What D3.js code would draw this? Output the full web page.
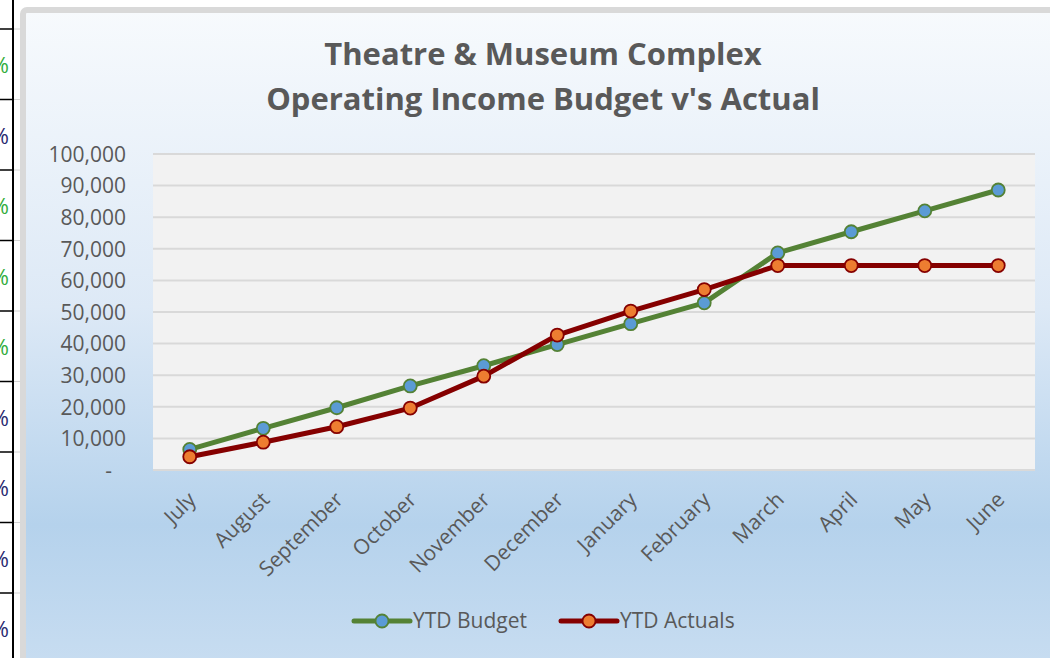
<!DOCTYPE html>
<html>
<head>
<meta charset="utf-8">
<script src="https://cdn.jsdelivr.net/npm/d3@7"></script>
<style>
  html, body { margin: 0; padding: 0; background: #fff; }
  svg { display: block; font-family: "Open Sans", sans-serif; }
</style>
</head>
<body>
<svg width="1050" height="658"></svg>
<script>
// --- Data ---
const months = ["July", "August", "September", "October", "November", "December",
  "January", "February", "March", "April", "May", "June"];
const ytdBudget = [6500, 13200, 19700, 26600, 33000, 39700, 46300, 52900, 68700, 75400, 82000, 88600];
const ytdActuals = [4200, 8800, 13700, 19600, 29700, 42700, 50300, 57100, 64700, 64700, 64700, 64700];
const yTicks = [0, 10000, 20000, 30000, 40000, 50000, 60000, 70000, 80000, 90000, 100000];
const titleLines = ["Theatre & Museum Complex", "Operating Income Budget v's Actual"];
const seriesNames = ["YTD Budget", "YTD Actuals"];
// spreadsheet cells peeking in on the left
const cellMarks = ["g", "d", "g", "g", "g", "d", "d", "d", "d"];

const svg = d3.select("svg");
const TEXT = "#595959";

// --- Spreadsheet strip on the left ---
const strip = svg.append("g");
strip.append("defs").append("clipPath").attr("id", "stripClip")
  .append("rect").attr("x", 0).attr("y", 0).attr("width", 12).attr("height", 658);
const rowY = d3.range(10).map((i) => 29 + i * 70.5);
strip.selectAll("line.row")
  .data(rowY)
  .enter()
  .append("line")
  .attr("x1", 0).attr("x2", 13)
  .attr("y1", (d) => d).attr("y2", (d) => d)
  .attr("stroke", "#000").attr("stroke-width", 1.5);
strip.selectAll("line.grid")
  .data(rowY)
  .enter()
  .append("line")
  .attr("x1", 14).attr("x2", 20)
  .attr("y1", (d) => d).attr("y2", (d) => d)
  .attr("stroke", "#d4d4d4").attr("stroke-width", 1);
strip.append("line")
  .attr("x1", 13).attr("x2", 13).attr("y1", 0).attr("y2", 658)
  .attr("stroke", "#000").attr("stroke-width", 2);
strip.append("g").attr("clip-path", "url(#stripClip)")
  .selectAll("text")
  .data(cellMarks)
  .enter()
  .append("text")
  .attr("x", 9)
  .attr("y", (d, i) => 73 + i * 70.5)
  .attr("text-anchor", "end")
  .attr("font-size", 22)
  .attr("fill", (d) => (d === "g" ? "#34ad3c" : "#2a2a70"))
  .text("%");

// --- Chart frame with gradient ---
const defs = svg.append("defs");
const grad = defs.append("linearGradient")
  .attr("id", "bg").attr("x1", 0).attr("y1", 0).attr("x2", 0).attr("y2", 1);
grad.append("stop").attr("offset", "0%").attr("stop-color", "#f7fafd");
grad.append("stop").attr("offset", "45%").attr("stop-color", "#dde9f6");
grad.append("stop").attr("offset", "78%").attr("stop-color", "#b5d2ec");
grad.append("stop").attr("offset", "100%").attr("stop-color", "#c8ddf1");

svg.append("rect")
  .attr("x", 23).attr("y", 10)
  .attr("width", 1040).attr("height", 660)
  .attr("rx", 4)
  .attr("fill", "url(#bg)")
  .attr("stroke", "#d9d9d9")
  .attr("stroke-width", 6);

// --- Title ---
svg.append("text")
  .attr("x", 543)
  .attr("text-anchor", "middle")
  .attr("font-size", 31)
  .attr("font-weight", "bold")
  .attr("fill", TEXT)
  .selectAll("tspan")
  .data(titleLines)
  .enter()
  .append("tspan")
  .attr("x", 543)
  .attr("y", (d, i) => 65 + i * 45)
  .text((d) => d);

// --- Scales ---
const plot = { left: 153, right: 1035, top: 154, bottom: 470 };
const x = d3.scalePoint().domain(months).range([plot.left, plot.right]).padding(0.5);
const y = d3.scaleLinear().domain([0, 100000]).range([plot.bottom, plot.top]);

svg.append("rect")
  .attr("x", plot.left).attr("y", plot.top - 1)
  .attr("width", plot.right - plot.left)
  .attr("height", plot.bottom - plot.top + 2)
  .attr("fill", "#f2f2f2");

// gridlines
svg.append("g")
  .selectAll("line")
  .data(yTicks)
  .enter()
  .append("line")
  .attr("x1", plot.left).attr("x2", plot.right)
  .attr("y1", (d) => y(d)).attr("y2", (d) => y(d))
  .attr("stroke", "#d9d9d9")
  .attr("stroke-width", 2);

// y axis labels
const yAxis = d3.axisLeft(y)
  .tickValues(yTicks)
  .tickSize(0)
  .tickPadding(0)
  .tickFormat((d) => (d === 0 ? "-" : d3.format(",")(d)));
const yG = svg.append("g")
  .attr("transform", `translate(126,0)`)
  .call(yAxis);
yG.select(".domain").remove();
yG.selectAll("text")
  .attr("font-family", "Open Sans")
  .attr("font-size", 21)
  .attr("fill", TEXT)
  .attr("dy", "0.35em");
yG.selectAll(".tick")
  .filter((d) => d === 0)
  .select("text")
  .attr("x", -14);

// x axis labels
const xAxis = d3.axisBottom(x).tickSize(0).tickPadding(0);
const xG = svg.append("g")
  .attr("transform", `translate(0,${plot.bottom})`)
  .call(xAxis);
xG.select(".domain").remove();
xG.selectAll("text")
  .attr("font-family", "Open Sans")
  .attr("font-size", 21)
  .attr("fill", TEXT)
  .attr("text-anchor", "end")
  .attr("dy", null)
  .attr("y", 0)
  .attr("transform", "translate(7,31) rotate(-45)");

// --- Lines ---
const series = [
  { name: seriesNames[0], values: ytdBudget, line: "#548235", fill: "#5b9bd5" },
  { name: seriesNames[1], values: ytdActuals, line: "#850000", fill: "#ed7d31" },
];

const lineGen = d3.line()
  .x((d, i) => x(months[i]))
  .y((d) => y(d));

series.forEach((s) => {
  const g = svg.append("g");
  g.append("path")
    .datum(s.values)
    .attr("d", lineGen)
    .attr("fill", "none")
    .attr("stroke", s.line)
    .attr("stroke-width", 5)
    .attr("stroke-linejoin", "round")
    .attr("stroke-linecap", "round");
  g.selectAll("circle")
    .data(s.values)
    .enter()
    .append("circle")
    .attr("cx", (d, i) => x(months[i]))
    .attr("cy", (d) => y(d))
    .attr("r", 6.5)
    .attr("fill", s.fill)
    .attr("stroke", s.line)
    .attr("stroke-width", 1.8);
});

// --- Legend ---
const legendX = [354, 561];
const legend = svg.append("g")
  .selectAll("g")
  .data(series)
  .enter()
  .append("g")
  .attr("transform", (d, i) => `translate(${legendX[i]},621)`);
legend.append("line")
  .attr("x1", 0).attr("x2", 56)
  .attr("stroke", (d) => d.line)
  .attr("stroke-width", 5)
  .attr("stroke-linecap", "round");
legend.append("circle")
  .attr("cx", 28).attr("r", 6.5)
  .attr("fill", (d) => d.fill)
  .attr("stroke", (d) => d.line)
  .attr("stroke-width", 1.8);
legend.append("text")
  .attr("x", 59)
  .attr("dy", "0.35em")
  .attr("font-size", 21)
  .attr("fill", TEXT)
  .text((d) => d.name);
</script>
</body>
</html>
